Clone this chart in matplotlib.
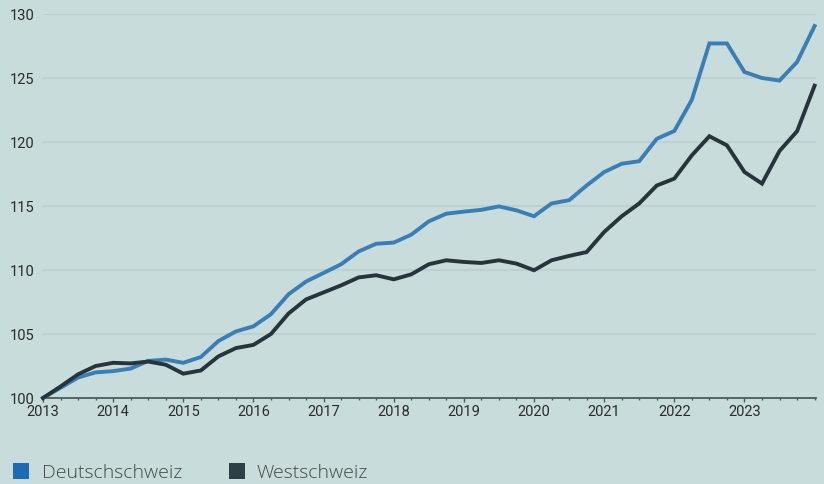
import matplotlib
matplotlib.use("Agg")
import matplotlib.pyplot as plt
from matplotlib.patches import Rectangle
import numpy as np

start_year = 2013
quarters_per_year = 4
deutschschweiz = [100.0, 100.8, 101.6, 102.0, 102.1, 102.3, 102.9, 103.0, 102.75, 103.2,
                  104.45, 105.2, 105.6, 106.55, 108.1, 109.1, 109.77, 110.45, 111.45, 112.05,
                  112.14, 112.76, 113.8, 114.4, 114.56, 114.7, 114.97, 114.66, 114.2, 115.2,
                  115.45, 116.6, 117.65, 118.3, 118.5, 120.25, 120.86, 123.3, 127.7, 127.7,
                  125.47, 125.0, 124.8, 126.25, 129.06]
westschweiz = [100.0, 100.9, 101.85, 102.5, 102.75, 102.7, 102.85, 102.6, 101.9, 102.15,
               103.25, 103.9, 104.15, 105.0, 106.6, 107.7, 108.25, 108.8, 109.42, 109.59,
               109.27, 109.66, 110.45, 110.76, 110.63, 110.55, 110.76, 110.5, 109.98, 110.76,
               111.1, 111.4, 112.97, 114.2, 115.2, 116.6, 117.14, 118.96, 120.45, 119.74,
               117.66, 116.75, 119.3, 120.84, 124.4]
series_names = ["Deutschschweiz", "Westschweiz"]
year_ticks = list(range(2013, 2024))
y_ticks = [100, 105, 110, 115, 120, 125, 130]

x = start_year + np.arange(len(deutschschweiz)) / quarters_per_year

bg = "#c8dcdb"
blue_line = "#3a7eb6"
dark_line = "#27343b"
blue_leg = "#1c6cb5"
dark_leg = "#2e3f47"

fig = plt.figure(figsize=(8.24, 4.84), dpi=100, facecolor=bg)
ax = fig.add_axes([43/824, (484-398)/484, (816-43)/824, (398-14)/484])
ax.set_facecolor(bg)

ax.plot(x, deutschschweiz, color=blue_line, lw=2.8, solid_joinstyle="miter", clip_on=False, zorder=3)
ax.plot(x, westschweiz, color=dark_line, lw=2.8, solid_joinstyle="miter", clip_on=False, zorder=4)

ax.set_xlim(2013, 2024.02)
ax.set_ylim(100, 130)
ax.set_yticks(y_ticks)
ax.set_xticks(year_ticks)
ax.set_xticklabels([str(y) for y in year_ticks])
ax.set_xticks(np.arange(2013, 2024.01, 0.25), minor=True)

for s in ["top", "right", "left"]:
    ax.spines[s].set_visible(False)
ax.spines["bottom"].set_color("#4d5b5c")
ax.spines["bottom"].set_linewidth(1.3)
ax.spines["bottom"].set_zorder(2)

ax.grid(axis="y", color="#bdd1d0", lw=1.5, zorder=0)
ax.set_axisbelow(True)

ax.tick_params(axis="y", length=0, pad=6, labelsize=10.5, labelcolor="#2b2b2b")
ax.tick_params(axis="x", which="major", length=3, width=1, color="#4d5b5c", pad=2,
               labelsize=10.5, labelcolor="#2b2b2b")
ax.tick_params(axis="x", which="minor", length=1.5, width=1, color="#4d5b5c")
for lab in ax.get_xticklabels() + ax.get_yticklabels():
    lab.set_fontfamily("Roboto")

# legend
leg_items = [(series_names[0], blue_leg, 13, 42), (series_names[1], dark_leg, 229, 257)]
for name, col, sx, tx in leg_items:
    fig.patches.append(Rectangle((sx/824, (484-479)/484), 16/824, 16/484,
                                 transform=fig.transFigure, facecolor=col, edgecolor="none"))
    fig.text(tx/824, (484-473)/484, name, fontsize=14, color="#474747",
             family="Open Sans", va="center", ha="left", fontweight="light")

fig.savefig("out.png", dpi=100, facecolor=bg)
